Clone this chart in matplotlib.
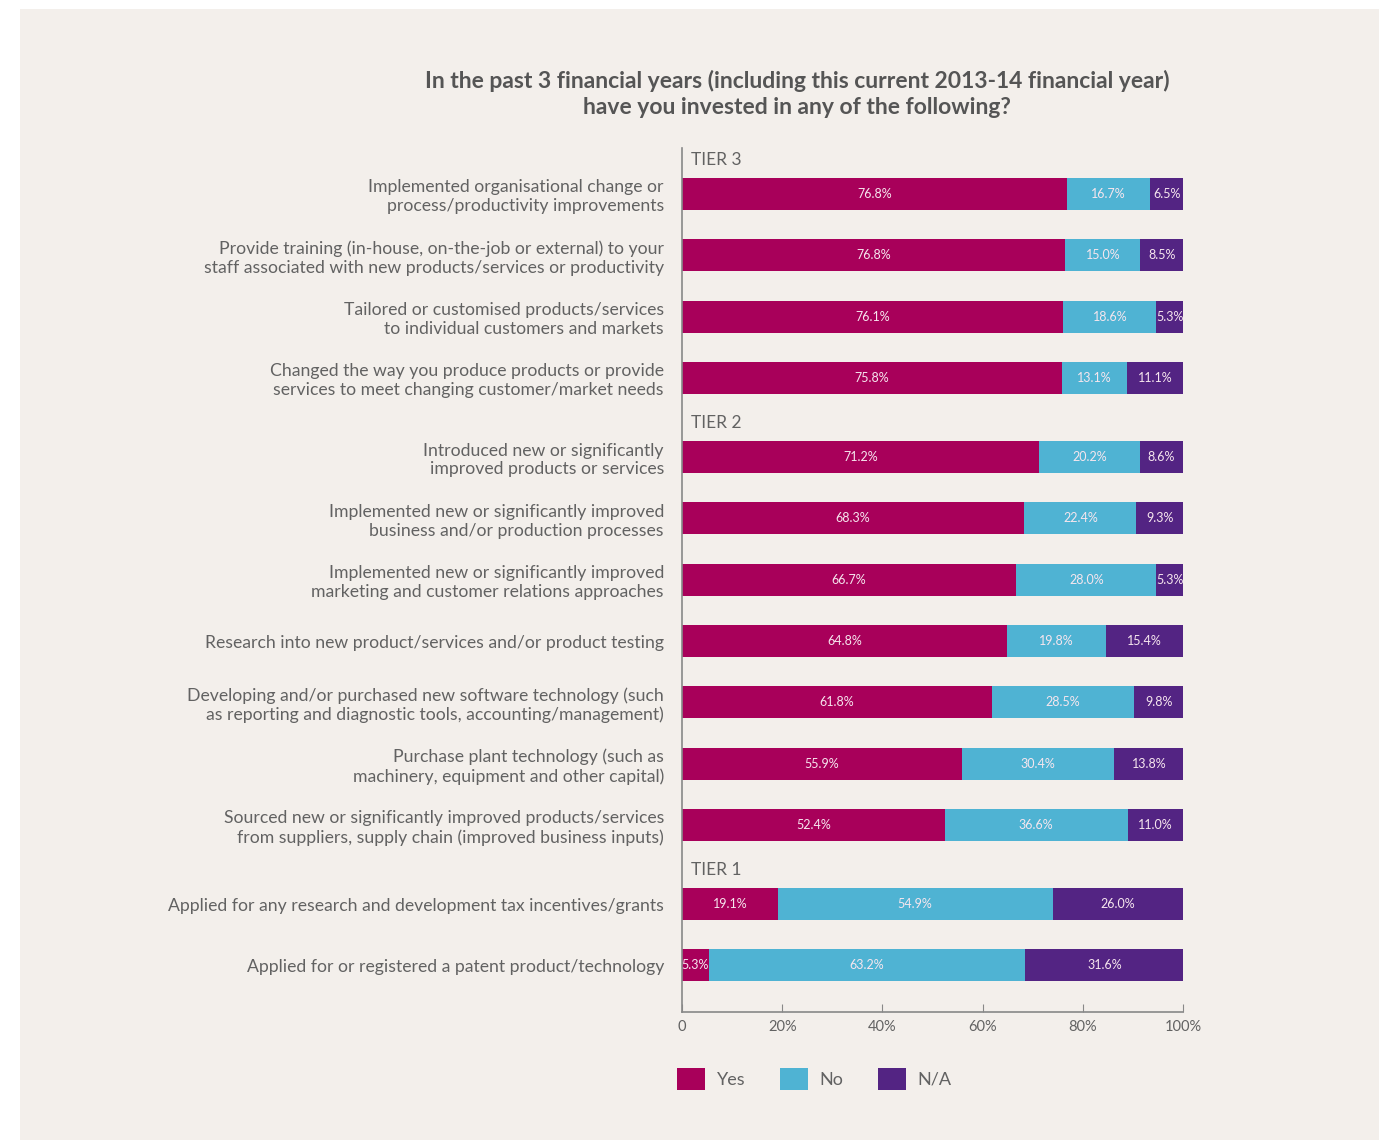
import matplotlib
matplotlib.use("Agg")
import matplotlib.pyplot as plt
from matplotlib.patches import Rectangle
import numpy as np

plt.rcParams['font.family'] = ['Lato', 'DejaVu Sans']

# data
categories = [
    "Implemented organisational change or\nprocess/productivity improvements",
    "Provide training (in-house, on-the-job or external) to your\nstaff associated with new products/services or productivity",
    "Tailored or customised products/services\nto individual customers and markets",
    "Changed the way you produce products or provide\nservices to meet changing customer/market needs",
    "Introduced new or significantly\nimproved products or services",
    "Implemented new or significantly improved\nbusiness and/or production processes",
    "Implemented new or significantly improved\nmarketing and customer relations approaches",
    "Research into new product/services and/or product testing",
    "Developing and/or purchased new software technology (such\nas reporting and diagnostic tools, accounting/management)",
    "Purchase plant technology (such as\nmachinery, equipment and other capital)",
    "Sourced new or significantly improved products/services\nfrom suppliers, supply chain (improved business inputs)",
    "Applied for any research and development tax incentives/grants",
    "Applied for or registered a patent product/technology",
]
tiers = ["TIER 3"] * 4 + ["TIER 2"] * 7 + ["TIER 1"] * 2
yes = [76.8, 76.5, 76.1, 75.8, 71.2, 68.3, 66.7, 64.8, 61.8, 55.9, 52.4, 19.1, 5.3]
no = [16.7, 15.0, 18.6, 13.1, 20.2, 22.4, 28.0, 19.8, 28.5, 30.4, 36.6, 54.9, 63.2]
na = [6.5, 8.5, 5.3, 11.1, 8.6, 9.3, 5.3, 15.4, 9.8, 13.8, 11.0, 26.0, 31.6]
yes_labels = ["76.8%", "76.8%", "76.1%", "75.8%", "71.2%", "68.3%", "66.7%",
              "64.8%", "61.8%", "55.9%", "52.4%", "19.1%", "5.3%"]
series_names = ["Yes", "No", "N/A"]
colors = ["#a8005a", "#4fb3d3", "#532483"]

title = ("In the past 3 financial years (including this current 2013-14 financial year)\n"
         "have you invested in any of the following?")

bg = "#f3efeb"
grey = "#626262"

# row positions with extra gap between tiers
pos = []
y = 0.0
prev = None
for t in tiers:
    if prev is not None:
        y += 1.0 if t == prev else 1.29
    pos.append(y)
    prev = t
pos = np.array(pos)

fig = plt.figure(figsize=(13.79, 11.40), dpi=100)
fig.patch.set_facecolor("white")
fig.patches.append(Rectangle((20 / 1379, 0), 1 - 20 / 1379, 1 - 9 / 1140,
                             transform=fig.transFigure, facecolor=bg,
                             edgecolor="none", zorder=-10))

ax = fig.add_axes([682 / 1379, 1 - 1012 / 1140, 501 / 1379, (1012 - 148) / 1140])
ax.set_facecolor("none")

left = np.zeros(len(yes))
for vals, name, col in zip([yes, no, na], series_names, colors):
    vals = np.array(vals)
    ax.barh(pos, vals, left=left, height=0.52, color=col, label=name)
    for i, (v, l) in enumerate(zip(vals, left)):
        txt = yes_labels[i] if name == "Yes" else f"{v:.1f}%"
        ax.text(l + v / 2, pos[i], txt, ha="center", va="center",
                fontsize=9, color="#f6e6ee")
    left = left + vals

ax.set_xlim(0, 100)
ax.set_ylim(13.34, -0.75)
ax.set_yticks(pos)
ax.set_yticklabels(categories, fontsize=12.7, color=grey, linespacing=1.22)
ax.tick_params(axis="y", length=0, pad=13)
ax.set_xticks([0, 20, 40, 60, 80, 100])
ax.set_xticklabels(["0", "20%", "40%", "60%", "80%", "100%"], fontsize=10.5, color=grey)
ax.tick_params(axis="x", direction="in", length=6, color="#888888", pad=6)
for s in ["top", "right"]:
    ax.spines[s].set_visible(False)
for s in ["left", "bottom"]:
    ax.spines[s].set_color("#888888")
    ax.spines[s].set_linewidth(1.2)

# tier headers
seen = set()
for t, p in zip(tiers, pos):
    if t not in seen:
        seen.add(t)
        ax.text(1.8, p - 0.55, t, ha="left", va="center", fontsize=12.5, color=grey)

fig.text(797 / 1379, 1 - 94 / 1140, title, ha="center", va="center",
         fontsize=16.5, fontweight="bold", color="#555555", linespacing=1.25)

leg = fig.legend(loc="center left", bbox_to_anchor=(677 / 1379, 1 - 1079 / 1140),
                 ncol=3, frameon=False, fontsize=13, handlelength=1.55,
                 handleheight=1.55, columnspacing=1.9, handletextpad=0.65,
                 borderpad=0, borderaxespad=0, labelcolor=grey)

fig.savefig("out.png", dpi=100, facecolor=fig.get_facecolor())
